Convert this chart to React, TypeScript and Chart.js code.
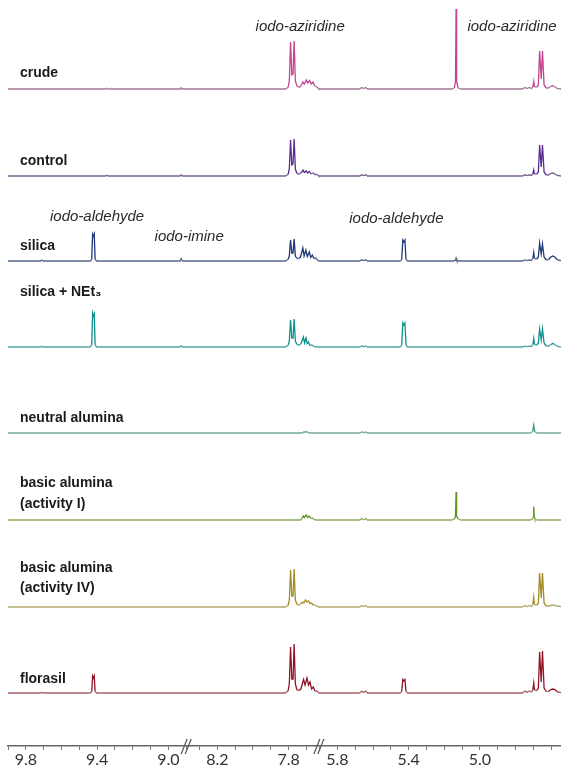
import React, { useEffect, useRef } from 'react';
import { Chart, registerables } from 'chart.js';

Chart.register(...registerables);

type Pt = [number, number];

// broken ppm axis: three visible windows (from, to)
const axisSegments: [number, number][] = [[9.9, 8.9], [8.375, 7.63], [5.904, 4.545]];
const labelledTicks = [9.8, 9.4, 9.0, 8.2, 7.8, 5.8, 5.4, 5.0];

const sampleNames = [
  'crude',
  'control',
  'silica',
  'silica + NEt₃',
  'neutral alumina',
  'basic alumina\n(activity I)',
  'basic alumina\n(activity IV)',
  'florasil',
];

// vertical stacking level of each spectrum
const baselineLevels = [657, 570, 485, 399, 313, 226, 139, 53];

// [ppm, intensity]
const crude: Pt[] = [
  [9.9, 0], [9.353, 0], [9.345, 0.8], [9.337, 0], [8.934, 0], [8.928, 1.2], [8.921, 0], [8.9, 0],
  [8.375, 0], [7.819, 0], [7.803, 1.5], [7.796, 8], [7.789, 47], [7.782, 14], [7.775, 15], [7.769, 48], [7.762, 8], [7.753, 3], [7.742, 2],
  [7.735, 2], [7.728, 4], [7.72, 7], [7.712, 5], [7.701, 9], [7.693, 6], [7.682, 8.5], [7.673, 5], [7.663, 7], [7.654, 3], [7.642, 2], [7.632, 0.5], [7.63, 0],
  [5.904, 0], [5.675, 0], [5.664, 1.5], [5.653, 0.5], [5.642, 1.5], [5.631, 0], [5.16, 0], [5.144, 1], [5.137, 8], [5.134, 80], [5.131, 8], [5.123, 1], [5.106, 0],
  [4.763, 0], [4.747, 1.5], [4.736, 0.5], [4.723, 1.5], [4.711, 0.5], [4.703, 2], [4.698, 7.5], [4.694, 2], [4.681, 2], [4.672, 4], [4.665, 38], [4.656, 10], [4.649, 38], [4.64, 4], [4.628, 1], [4.616, 1], [4.604, 2.5], [4.593, 3.3], [4.582, 2.5], [4.567, 0.5], [4.545, 0],
];

const control: Pt[] = [
  [9.9, 0], [9.353, 0], [9.345, 0.8], [9.337, 0], [8.934, 0], [8.928, 1.2], [8.921, 0], [8.9, 0],
  [8.375, 0], [7.819, 0], [7.803, 1.5], [7.796, 7], [7.789, 36], [7.782, 11], [7.775, 12], [7.769, 37], [7.762, 7], [7.753, 2.5], [7.742, 2],
  [7.733, 3], [7.726, 4], [7.719, 6], [7.712, 3.5], [7.701, 5], [7.693, 3], [7.684, 4.5], [7.675, 2], [7.661, 3], [7.653, 1.5], [7.644, 1.5], [7.632, 0.5], [7.63, 0],
  [5.904, 0], [5.675, 0], [5.664, 1.2], [5.653, 0.4], [5.642, 1.2], [5.631, 0],
  [4.763, 0], [4.747, 1.2], [4.736, 0.4], [4.723, 1.2], [4.711, 0.5], [4.703, 2], [4.698, 6], [4.694, 2], [4.681, 2], [4.672, 4], [4.665, 31], [4.656, 9], [4.649, 31], [4.64, 4], [4.628, 1], [4.616, 1], [4.604, 2.5], [4.593, 3], [4.582, 2.5], [4.567, 0.5], [4.545, 0],
];

const silica: Pt[] = [
  [9.9, 0], [9.718, 0], [9.711, 1], [9.703, 0], [9.439, 0], [9.43, 1.5], [9.425, 27], [9.42, 25], [9.416, 27], [9.411, 1.5], [9.402, 0], [8.934, 0], [8.928, 2.5], [8.921, 0], [8.9, 0],
  [8.375, 0], [7.819, 0], [7.803, 1.5], [7.796, 5], [7.789, 21], [7.782, 8], [7.775, 8], [7.769, 22], [7.762, 5], [7.753, 2.5], [7.744, 2.5],
  [7.733, 4], [7.72, 13], [7.713, 5], [7.703, 11], [7.695, 4.5], [7.684, 9], [7.676, 3.5], [7.667, 6], [7.658, 2.5], [7.647, 3], [7.639, 1.2], [7.63, 0],
  [5.904, 0], [5.675, 0], [5.664, 1.2], [5.653, 0.4], [5.642, 1.2], [5.631, 0], [5.449, 0], [5.439, 1.5], [5.433, 21], [5.427, 19], [5.421, 21], [5.415, 1.5], [5.406, 0],
  [5.149, 0], [5.138, 0.5], [5.134, 3], [5.13, 0.5], [5.117, 0],
  [4.763, 0], [4.747, 1], [4.736, 0.4], [4.723, 1], [4.711, 0.6], [4.703, 2.5], [4.698, 8.5], [4.694, 2.5], [4.681, 2], [4.672, 4], [4.665, 18], [4.656, 7], [4.649, 17], [4.64, 4], [4.628, 1], [4.615, 1.5], [4.602, 4], [4.591, 5], [4.58, 4], [4.564, 1], [4.545, 0.5],
];

const silicaNEt3: Pt[] = [
  [9.9, 0], [9.718, 0], [9.711, 0.8], [9.703, 0], [9.439, 0], [9.43, 2], [9.425, 34], [9.42, 31], [9.416, 33], [9.411, 2], [9.402, 0], [8.934, 0], [8.928, 1.2], [8.921, 0], [8.9, 0],
  [8.375, 0], [7.819, 0], [7.803, 1.5], [7.796, 6], [7.789, 27], [7.782, 9], [7.775, 9], [7.769, 28], [7.762, 6], [7.753, 2.5], [7.742, 2],
  [7.731, 3], [7.717, 10], [7.71, 4], [7.702, 9], [7.696, 3.5], [7.689, 5], [7.68, 1.5], [7.669, 2], [7.658, 0.5], [7.63, 0],
  [5.904, 0], [5.675, 0], [5.664, 1], [5.653, 0.3], [5.642, 1], [5.631, 0], [5.449, 0], [5.439, 2], [5.433, 24], [5.427, 22], [5.421, 24], [5.415, 2], [5.406, 0],
  [4.763, 0], [4.747, 0.8], [4.736, 0.3], [4.723, 0.8], [4.711, 0.5], [4.703, 2.5], [4.698, 8.5], [4.694, 2.5], [4.681, 2], [4.672, 4], [4.665, 18], [4.656, 7], [4.649, 18], [4.64, 4], [4.628, 1], [4.615, 1], [4.602, 2.5], [4.591, 3.5], [4.58, 2.5], [4.564, 0.5], [4.545, 0],
];

const neutralAlumina: Pt[] = [
  [9.9, 0], [8.9, 0], [8.375, 0], [7.723, 0], [7.712, 1.5], [7.7065, 0.6], [7.699, 1.5], [7.69, 0.3], [7.68, 0], [7.63, 0],
  [5.904, 0], [5.675, 0], [5.664, 1], [5.653, 0.3], [5.642, 1], [5.631, 0], [4.72, 0], [4.705, 1], [4.698, 8], [4.692, 1], [4.677, 0], [4.545, 0],
];

const basicAluminaI: Pt[] = [
  [9.9, 0], [8.9, 0], [8.375, 0], [7.733, 0], [7.725, 1.5], [7.718, 4], [7.712, 2.5], [7.701, 5], [7.693, 2.5], [7.684, 4], [7.675, 1.5], [7.667, 2], [7.658, 0.5], [7.647, 0], [7.63, 0],
  [5.904, 0], [5.675, 0], [5.664, 1.5], [5.653, 0.3], [5.642, 1.5], [5.631, 0], [5.16, 0], [5.144, 1], [5.137, 4], [5.134, 28], [5.131, 4], [5.123, 1], [5.106, 0],
  [4.72, 0], [4.705, 1], [4.701, 3], [4.698, 13.5], [4.695, 3], [4.692, 1], [4.677, 0], [4.545, 0],
];

const basicAluminaIV: Pt[] = [
  [9.9, 0], [8.9, 0], [8.375, 0], [7.819, 0], [7.803, 1.5], [7.796, 7], [7.789, 37], [7.782, 11], [7.775, 11], [7.769, 38], [7.762, 7], [7.753, 2.5], [7.742, 2],
  [7.733, 3], [7.7225, 5], [7.715, 4], [7.705, 7], [7.697, 5], [7.688, 6], [7.68, 3.5], [7.671, 4], [7.662, 2], [7.654, 2], [7.643, 0.8], [7.632, 0.3], [7.63, 0],
  [5.904, 0], [5.675, 0], [5.664, 1.5], [5.653, 0.4], [5.642, 1.5], [5.631, 0],
  [4.763, 0], [4.747, 1.5], [4.736, 0.5], [4.723, 1.5], [4.711, 0.6], [4.703, 2.5], [4.698, 10], [4.694, 2.5], [4.681, 2], [4.672, 4], [4.665, 34], [4.656, 9], [4.649, 34], [4.64, 4], [4.628, 1], [4.615, 1], [4.602, 1.5], [4.586, 2], [4.569, 1], [4.545, 0.5],
];

const florasil: Pt[] = [
  [9.9, 0], [9.718, 0], [9.711, 0.8], [9.703, 0], [9.439, 0], [9.43, 1.5], [9.425, 17], [9.42, 15], [9.416, 17], [9.411, 1.5], [9.402, 0], [8.9, 0],
  [8.375, 0], [7.819, 0], [7.803, 2], [7.796, 9], [7.789, 46], [7.782, 14], [7.775, 14], [7.769, 49], [7.762, 9], [7.753, 3], [7.742, 2.5],
  [7.731, 4], [7.716, 13.5], [7.7075, 8], [7.697, 15], [7.688, 8], [7.68, 11], [7.671, 4], [7.661, 6], [7.653, 2], [7.643, 2], [7.635, 1], [7.63, 0.3],
  [5.904, 0], [5.675, 0], [5.664, 2], [5.653, 0.5], [5.642, 2], [5.631, 0], [5.449, 0], [5.439, 1.5], [5.433, 13.5], [5.427, 12], [5.421, 13.5], [5.415, 1.5], [5.406, 0],
  [4.763, 0], [4.747, 2], [4.736, 0.8], [4.723, 2], [4.711, 1], [4.703, 3], [4.698, 10], [4.694, 3], [4.681, 2.5], [4.672, 5], [4.665, 41], [4.656, 11], [4.649, 42], [4.64, 5], [4.628, 1.5], [4.615, 1.5], [4.602, 3.5], [4.591, 4], [4.58, 3.5], [4.564, 1], [4.545, 0.5],
];

const spectra: Pt[][] = [crude, control, silica, silicaNEt3, neutralAlumina, basicAluminaI, basicAluminaIV, florasil];

const baseColors = ['#a27893', '#7b6390', '#58698a', '#4fa8a6', '#72ab98', '#8fa960', '#b2aa6c', '#a8626a'];
const peakColors = ['#c2438f', '#5a2a92', '#1f3878', '#0e918e', '#3a9c86', '#5f901f', '#a48b24', '#8e1426'];

// label placement (pixels above each baseline, one entry per text line)
const labelLift: number[][] = [[16], [15], [15], [55], [15], [37, 16], [39, 19], [14]];

const annotations = [
  { text: 'iodo-aziridine', ppm: 7.735, trace: 0, lift: 62 },
  { text: 'iodo-aziridine', ppm: 4.82, trace: 0, lift: 62 },
  { text: 'iodo-aldehyde', ppm: 9.4, trace: 2, lift: 44 },
  { text: 'iodo-imine', ppm: 8.358, trace: 2, lift: 24 },
  { text: 'iodo-aldehyde', ppm: 5.469, trace: 2, lift: 42 },
];

const toAxis = (ppm: number): number => {
  let base = 0;
  for (const [a, b] of axisSegments) {
    if (ppm <= a + 1e-9 && ppm >= b - 1e-9) return base + (a - ppm);
    base += a - b;
  }
  return NaN;
};

const fromAxis = (v: number): number => {
  let base = 0;
  for (const [a, b] of axisSegments) {
    const w = a - b;
    if (v <= base + w + 1e-9) return a - (v - base);
    base += w;
  }
  return NaN;
};

const axisLength = axisSegments.reduce((s, [a, b]) => s + (a - b), 0);

const tickValues: number[] = [];
axisSegments.forEach(([a, b]) => {
  for (let k = Math.ceil(b * 10 - 1e-6); k <= Math.floor(a * 10 + 1e-6); k++) {
    tickValues.push(toAxis(k / 10));
  }
});

const breakPositions: number[] = [];
{
  let base = 0;
  axisSegments.slice(0, -1).forEach(([a, b]) => {
    base += a - b;
    breakPositions.push(base);
  });
}

const overlayPlugin = {
  id: 'nmrOverlay',
  afterDraw(chart: any) {
    const { ctx, scales } = chart;
    const xs = scales.x;
    const ys = scales.y;
    ctx.save();
    // sample labels
    ctx.fillStyle = '#1a1a1a';
    ctx.font = 'bold 14px "Liberation Sans", Arial, sans-serif';
    ctx.textBaseline = 'middle';
    ctx.textAlign = 'left';
    sampleNames.forEach((name, i) => {
      const lines = name.split('\n');
      const baseY = ys.getPixelForValue(baselineLevels[i]);
      lines.forEach((line, j) => {
        ctx.fillText(line, chart.chartArea.left + 12, baseY - labelLift[i][j]);
      });
    });
    // italic annotations
    ctx.fillStyle = '#2a2a2a';
    ctx.font = 'italic 15px "Liberation Sans", Arial, sans-serif';
    ctx.textAlign = 'center';
    annotations.forEach((a) => {
      const x = xs.getPixelForValue(toAxis(a.ppm));
      const y = ys.getPixelForValue(baselineLevels[a.trace] + a.lift);
      ctx.fillText(a.text, x, y);
    });
    // axis break marks
    const axisY = chart.chartArea.bottom;
    ctx.strokeStyle = '#555';
    ctx.lineWidth = 1.2;
    breakPositions.forEach((v) => {
      const x = xs.getPixelForValue(v);
      [-2, 2].forEach((dx) => {
        ctx.beginPath();
        ctx.moveTo(x + dx - 3, axisY + 8);
        ctx.lineTo(x + dx + 3, axisY - 7);
        ctx.stroke();
      });
    });
    ctx.restore();
  },
};

export default function App() {
  const canvasRef = useRef<HTMLCanvasElement | null>(null);

  useEffect(() => {
    const canvas = canvasRef.current;
    if (!canvas) return;
    const datasets = spectra.map((spec, i) => ({
      label: sampleNames[i],
      data: spec.map(([ppm, inten]) => ({ x: toAxis(ppm), y: baselineLevels[i] + inten })),
      borderColor: baseColors[i],
      borderWidth: 1.3,
      pointRadius: 0,
      tension: 0,
      fill: false,
      segment: {
        borderColor: (c: any) =>
          Math.max(c.p0.parsed.y, c.p1.parsed.y) - baselineLevels[i] > 3 ? peakColors[i] : baseColors[i],
      },
    }));

    const chart = new Chart(canvas, {
      type: 'line',
      data: { datasets },
      options: {
        animation: false,
        responsive: false,
        devicePixelRatio: 1,
        layout: { padding: { left: 8, right: 0, top: 0, bottom: 0 } },
        plugins: { legend: { display: false }, tooltip: { enabled: false } },
        scales: {
          x: {
            type: 'linear',
            min: 0,
            max: axisLength,
            afterBuildTicks: (axis: any) => {
              axis.ticks = tickValues.map((v) => ({ value: v }));
            },
            afterFit: (scale: any) => {
              scale.height = 28;
            },
            border: { display: true, color: '#666', width: 1.5 },
            grid: { display: true, drawOnChartArea: false, drawTicks: true, tickLength: 4, color: '#777' },
            ticks: {
              autoSkip: false,
              maxRotation: 0,
              padding: 0,
              color: '#333',
              font: { family: 'Lato', size: 16 },
              callback: (value: any) => {
                const ppm = Math.round(fromAxis(Number(value)) * 10) / 10;
                return labelledTicks.some((t) => Math.abs(t - ppm) < 1e-6) ? ppm.toFixed(1) : '';
              },
            },
          },
          y: { type: 'linear', min: 0, max: 746, display: false },
        },
      },
      plugins: [overlayPlugin],
    });
    return () => chart.destroy();
  }, []);

  return (
    <div style={{ position: 'absolute', left: 0, top: 0, width: 561, height: 774, background: '#fff' }}>
      <canvas ref={canvasRef} width={561} height={774} />
    </div>
  );
}
